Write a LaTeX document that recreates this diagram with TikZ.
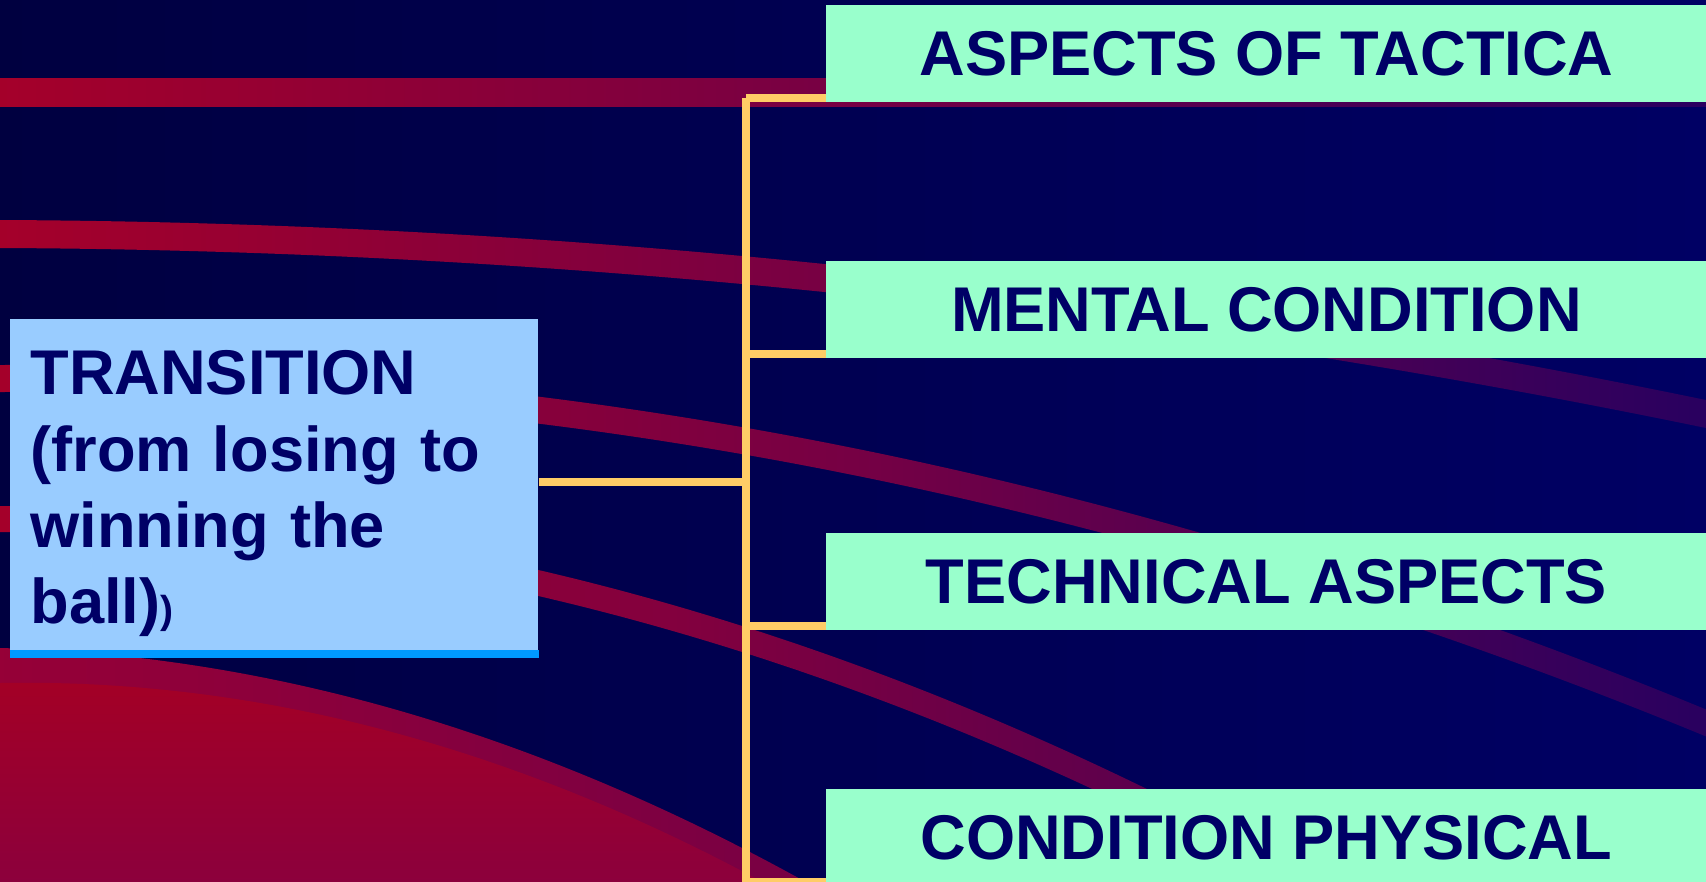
\documentclass[tikz,border=0pt]{standalone}
\usepackage{fontspec}
\setmainfont{Liberation Sans}
\definecolor{bgL}{RGB}{0,0,64}
\definecolor{bgR}{RGB}{0,0,100}
\definecolor{navytext}{RGB}{0,0,102}
\definecolor{lightblue}{RGB}{153,204,255}
\definecolor{stripeblue}{RGB}{0,153,255}
\definecolor{mint}{RGB}{153,255,204}
\definecolor{gold}{RGB}{255,204,102}
\definecolor{bandL}{RGB}{165,0,42}
\definecolor{bandM}{RGB}{118,0,68}
\definecolor{bandR}{RGB}{40,0,96}
\definecolor{bandDR}{RGB}{76,0,83}
\definecolor{bandDM}{RGB}{131,0,62}
\definecolor{bigL}{RGB}{150,0,55}
\definecolor{bigR}{RGB}{120,0,68}
\definecolor{redT}{RGB}{163,0,38}
\definecolor{redB}{RGB}{138,0,62}
\begin{document}
\begin{tikzpicture}[x=0.5pt,y=-0.5pt,
  rbox/.style={fill=mint, text=navytext, minimum width=440pt, minimum height=48.5pt,
    inner sep=0pt, anchor=north west, font=\fontsize{31.6pt}{38pt}\selectfont\bfseries},
  lbox/.style={fill=lightblue, text=navytext, minimum width=264pt, minimum height=169pt,
    text width=244pt, inner xsep=10pt, inner ysep=0pt, align=left, anchor=north west,
    font=\fontsize{31.6pt}{38.15pt}\selectfont\bfseries},
  conn/.style={draw=gold, line width=4pt},
  band/.style={left color=bandL, right color=bandR, middle color=bandM}
]
\useasboundingbox (0,0) rectangle (1706,882);
\clip (0,0) rectangle (1706,882);
% background
\shade[left color=bgL, right color=bgR] (-2,-2) rectangle (1708,884);
% bands
\shade[band] (-10,79) rectangle (1716,107);
\shade[band] plot[domain=-10:1716, samples=40, smooth] (\x, {234+4.65*(\x/1000)+59.12*(\x/1000)^2-14})
  -- plot[domain=1716:-10, samples=40, smooth] (\x, {234+4.65*(\x/1000)+59.12*(\x/1000)^2+14}) -- cycle;
\shade[band] plot[domain=-10:1716, samples=40, smooth] (\x, {378.5-7.27*(\x/1000)+122.6*(\x/1000)^2-13.5})
  -- plot[domain=1716:-10, samples=40, smooth] (\x, {378.5-7.27*(\x/1000)+122.6*(\x/1000)^2+13.5}) -- cycle;
\shade[left color=bandL, right color=bandDR, middle color=bandDM]
  plot[domain=-10:1350, samples=40, smooth] (\x, {519+5.78*(\x/1000)+210.1*(\x/1000)^2-13})
  -- plot[domain=1350:-10, samples=40, smooth] (\x, {519+5.78*(\x/1000)+210.1*(\x/1000)^2+13}) -- cycle;
% big red shape
\shade[left color=bigL, right color=bigR]
  plot[domain=-10:820, samples=40, smooth] (\x, {648+25.74*(\x/1000)+328.5*(\x/1000)^2})
  -- (820,900) -- (-10,900) -- cycle;
\shade[top color=redT, bottom color=redB]
  plot[domain=-10:790, samples=40, smooth] (\x, {683-18.5*(\x/1000)+366.5*(\x/1000)^2})
  -- (790,900) -- (-10,900) -- cycle;
% boxes
\node[lbox] (trans) at (10,319) {\rule{0pt}{27.5pt}TRANSITION\\(from losing to\\winning the\\ball){\fontsize{19.5pt}{20pt}\selectfont)}};
\fill[stripeblue] (trans.south west) rectangle ([yshift=4pt]trans.south east);
\node[rbox] (b1) at (826,5) {ASPECTS OF TACTICA};
\node[rbox] (b2) at (826,261) {MENTAL CONDITION};
\node[rbox] (b3) at (826,533) {TECHNICAL ASPECTS};
\node[rbox] (b4) at (826,789) {CONDITION PHYSICAL};
% connectors
\coordinate (jn) at (746,482);
\coordinate (j1) at (746,98);
\coordinate (j2) at (746,354);
\coordinate (j3) at (746,626);
\coordinate (j4) at (746,882);
\coordinate (jend) at (746,890);
\draw[conn] (trans.east |- jn) -- (jn);
\draw[conn] (j1) -- (jend);
\draw[conn] (j1) -- (j1 -| b1.west);
\draw[conn] (j2) -- (j2 -| b2.west);
\draw[conn] (j3) -- (j3 -| b3.west);
\draw[conn] (j4) -- (j4 -| b4.west);
\end{tikzpicture}
\end{document}
